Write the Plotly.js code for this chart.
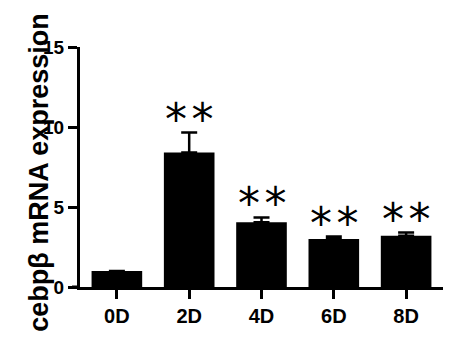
<!DOCTYPE html>
<html>
<head>
<meta charset="utf-8">
<script src="https://cdn.plot.ly/plotly-3.0.1.min.js"></script>
<style>html,body{margin:0;padding:0;background:#fff;}#chart{width:462px;height:339px;}</style>
</head>
<body>
<div id="chart"></div>
<script>
const categories = ["0D", "2D", "4D", "6D", "8D"];
const expression = [1.0, 8.4, 4.05, 3.0, 3.2];
const sem = [0, 1.25, 0.3, 0.15, 0.2];
const significance = ["", "*\u200a*", "*\u200a*", "*\u200a*", "*\u200a*"];
const yTicks = [0, 5, 10, 15];
const yTitle = "cebpβ mRNA expression";

const boldFont = {family: "Liberation Sans, Arial, sans-serif", weight: 700, color: "#000"};

const trace = {
  type: "bar",
  x: categories,
  y: expression,
  width: 0.7,
  marker: {color: "#000", line: {width: 0}},
  error_y: {
    type: "data",
    symmetric: false,
    array: sem,
    arrayminus: sem.map(() => 0),
    color: "#000",
    thickness: 2.5,
    width: 8,
    visible: true
  },
  hoverinfo: "none"
};

const annotations = categories.map((c, i) => ({
  x: c, y: expression[i] + sem[i],
  xref: "x", yref: "y",
  text: significance[i],
  showarrow: false,
  yanchor: "bottom",
  yshift: -14,
  font: {family: "DejaVu Sans", size: 44, color: "#000"}
})).filter((a, i) => significance[i] !== "");

annotations.push({
  xref: "paper", yref: "paper",
  x: -0.113, y: 0.48,
  text: "<b>" + yTitle + "</b>",
  textangle: -90,
  showarrow: false,
  xanchor: "center", yanchor: "middle",
  font: Object.assign({size: 27}, boldFont)
});

const layout = {
  width: 462, height: 339,
  margin: {l: 80, r: 19, t: 47, b: 52},
  paper_bgcolor: "#fff", plot_bgcolor: "#fff",
  showlegend: false,
  xaxis: {
    type: "category",
    range: [-0.51, 4.51],
    tickvals: categories,
    ticktext: categories.map(c => "<b>" + c + "</b>"),
    showline: true, linewidth: 3, linecolor: "#000",
    ticks: "outside", ticklen: 9, tickwidth: 3, tickcolor: "#000",
    showgrid: false, zeroline: false,
    tickfont: Object.assign({size: 20}, boldFont)
  },
  yaxis: {
    range: [0, 15],
    tickvals: yTicks,
    ticktext: yTicks.map(v => "<b>" + v + "</b>"),
    showline: true, linewidth: 3, linecolor: "#000",
    ticks: "outside", ticklen: 9, tickwidth: 3, tickcolor: "#000",
    showgrid: false, zeroline: false,
    tickfont: Object.assign({size: 19}, boldFont)
  },
  shapes: [{
    type: "line", xref: "paper", yref: "y",
    x0: -0.022, x1: 0, y0: 0, y1: 0,
    line: {color: "#000", width: 3}
  }],
  annotations: annotations
};

Plotly.newPlot("chart", [trace], layout, {staticPlot: true, displayModeBar: false});
</script>
</body>
</html>
